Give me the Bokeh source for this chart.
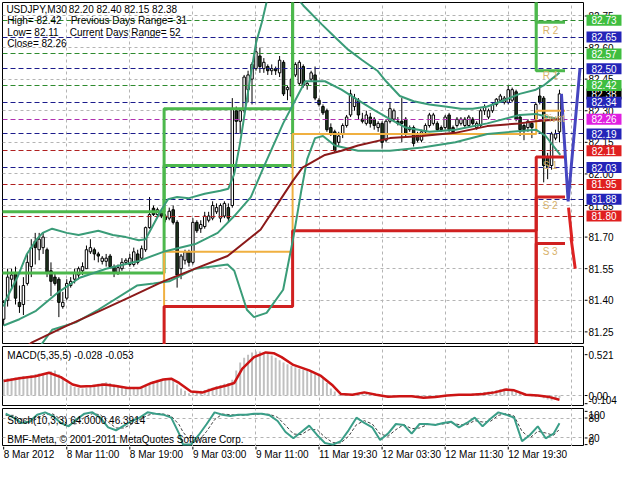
import numpy as np
from bokeh.plotting import figure
from bokeh.layouts import column, row
from bokeh.models import ColumnDataSource, Range1d, FixedTicker, Grid
from bokeh.embed import file_html
from bokeh.resources import INLINE
from bokeh.core.properties import value

FONT = "Liberation Sans"
FS = "10px"
FS_TXT = "10px"

# ---------------- data: USDJPY M30 candles (bar 0 .. 141) ----------------
opens = [81.31,81.40,81.50,81.53,81.39,81.38,81.48,81.56,81.68,81.64,
 81.65,81.64,81.54,81.51,81.50,81.37,81.41,81.47,81.50,81.52,
 81.54,81.55,81.63,81.64,81.62,81.585,81.585,81.61,81.56,81.53,
 81.55,81.58,81.57,81.57,81.62,81.60,81.64,81.745,81.837,81.807,
 81.82,81.80,81.79,81.83,81.77,81.55,81.59,81.63,81.58,81.77,
 81.74,81.75,81.78,81.79,81.82,81.79,81.80,81.84,81.85,82.30,
 82.25,82.30,82.40,82.45,82.50,82.56,82.50,82.51,82.49,82.50,
 82.48,82.53,82.40,82.37,82.47,82.43,82.51,82.42,82.45,82.47,
 82.35,82.32,82.30,82.22,82.20,82.15,82.19,82.23,82.28,82.32,
 82.35,82.26,82.24,82.27,82.26,82.22,82.24,82.16,82.25,82.26,
 82.25,82.25,82.26,82.21,82.22,82.19,82.16,82.20,82.23,82.24,
 82.24,82.22,82.22,82.28,82.22,82.23,82.24,82.23,82.23,82.26,
 82.22,82.23,82.30,82.27,82.30,82.33,82.35,82.34,82.34,82.35,
 82.39,82.27,82.23,82.22,82.24,82.26,82.37,82.36,82.08,82.04,
 82.17,82.20]
highs = [81.40,81.55,81.55,81.56,81.47,81.51,81.62,81.69,81.72,81.72,
 81.72,81.65,81.58,81.53,81.51,81.44,81.50,81.51,81.55,81.56,
 81.58,81.66,81.69,81.65,81.63,81.61,81.62,81.62,81.57,81.57,
 81.60,81.60,81.62,81.65,81.64,81.66,81.75,81.89,81.85,81.84,
 81.83,81.81,81.84,81.85,81.78,81.62,81.64,81.64,81.79,81.78,
 81.78,81.82,81.82,81.87,81.86,81.86,81.87,81.86,82.36,82.32,
 82.31,82.47,82.49,82.53,82.65,82.60,82.55,82.52,82.52,82.51,
 82.56,82.54,82.42,82.46,82.53,82.54,82.52,82.44,82.49,82.51,
 82.36,82.33,82.31,82.24,82.21,82.20,82.24,82.28,82.40,82.38,
 82.36,82.29,82.30,82.29,82.27,82.25,82.25,82.26,82.34,82.31,
 82.27,82.36,82.27,82.23,82.23,82.20,82.21,82.24,82.29,82.29,
 82.25,82.23,82.28,82.29,82.23,82.27,82.27,82.27,82.28,82.27,
 82.25,82.31,82.33,82.31,82.34,82.36,82.38,82.37,82.42,82.41,
 82.40,82.28,82.24,82.26,82.25,82.34,82.42,82.37,82.10,82.20,
 82.21,82.40]
lows = [81.28,81.37,81.45,81.38,81.34,81.33,81.47,81.51,81.57,81.59,
 81.62,81.51,81.42,81.47,81.32,81.36,81.40,81.46,81.48,81.50,
 81.52,81.55,81.62,81.59,81.58,81.57,81.56,81.55,81.51,81.52,
 81.54,81.57,81.56,81.56,81.57,81.59,81.63,81.74,81.80,81.79,
 81.79,81.77,81.78,81.76,81.46,81.50,81.57,81.56,81.57,81.72,
 81.72,81.74,81.77,81.78,81.81,81.77,81.79,81.77,81.84,82.19,
 82.19,82.29,82.34,82.33,82.49,82.48,82.48,82.47,82.47,82.47,
 82.46,82.37,82.35,82.36,82.46,82.42,82.41,82.40,82.44,82.35,
 82.32,82.28,82.20,82.18,82.10,82.13,82.17,82.22,82.27,82.30,
 82.26,82.24,82.23,82.22,82.21,82.20,82.12,82.15,82.24,82.25,
 82.23,82.15,82.18,82.20,82.13,82.15,82.15,82.19,82.22,82.23,
 82.20,82.20,82.21,82.20,82.19,82.22,82.23,82.22,82.22,82.23,
 82.21,82.22,82.28,82.26,82.29,82.32,82.34,82.33,82.33,82.34,
 82.25,82.18,82.16,82.20,82.17,82.25,82.33,81.96,81.975,82.02,
 82.16,82.15]
closes = [81.39,81.51,81.52,81.41,81.37,81.47,81.58,81.65,81.65,81.69,
 81.70,81.53,81.49,81.48,81.39,81.39,81.48,81.49,81.53,81.55,
 81.56,81.64,81.65,81.62,81.61,81.60,81.60,81.56,81.535,81.555,
 81.58,81.59,81.60,81.63,81.58,81.645,81.745,81.807,81.807,81.83,
 81.80,81.783,81.823,81.77,81.52,81.61,81.63,81.58,81.77,81.73,
 81.76,81.80,81.80,81.85,81.84,81.85,81.86,81.79,82.31,82.25,
 82.30,82.46,82.47,82.52,82.58,82.51,82.53,82.49,82.50,82.49,
 82.54,82.38,82.41,82.45,82.52,82.53,82.42,82.43,82.48,82.36,
 82.33,82.29,82.21,82.19,82.11,82.18,82.23,82.27,82.38,82.36,
 82.28,82.25,82.28,82.24,82.23,82.24,82.15,82.25,82.31,82.30,
 82.24,82.24,82.19,82.22,82.145,82.16,82.20,82.23,82.28,82.28,
 82.21,82.21,82.27,82.21,82.20,82.26,82.26,82.26,82.27,82.24,
 82.24,82.30,82.32,82.30,82.33,82.355,82.37,82.36,82.40,82.40,
 82.26,82.21,82.21,82.25,82.22,82.33,82.34,82.04,82.03,82.19,
 82.19,82.38]

# indicator lines: (bar, value)
upper_band = [(0,81.37),(0.5,81.40),(3.5,81.51),(5.9,81.62),(8.4,81.69),(9.9,81.72),(12.3,81.74),
 (16,81.72),(19,81.71),(24,81.73),(27.7,81.71),(31,81.70),(34.3,81.685),(36,81.69),(38,81.76),
 (40,81.83),(41.7,81.88),(44,81.89),(47,81.885),(51,81.906),(55,81.92),(57,81.93),(58.5,82.00),
 (60,82.15),(61,82.27),(62.5,82.45),(64,82.62),(65.5,82.72),(67,82.84),(70,82.93),(73,82.87),
 (76,82.80),(80.7,82.71),(84,82.65),(87.4,82.59),(91,82.54),(94.8,82.49),(97,82.44),(100.5,82.37),
 (104,82.345),(108,82.33),(112,82.32),(116,82.31),(119,82.31),(122.7,82.32),(127,82.35),
 (130.9,82.38),(135,82.40),(137,82.42),(139,82.45),(141,82.48)]
middle_band = [(0,81.28),(4,81.31),(8.2,81.35),(14,81.44),(19.3,81.507),(26,81.55),(34,81.585),
 (40.5,81.63),(48.6,81.667),(54.3,81.72),(58.5,81.80),(62.7,81.89),(65.9,82.03),(70.9,82.24),
 (76.5,82.44),(81.5,82.44),(85.7,82.40),(89.9,82.35),(93.8,82.305),(98,82.26),(102,82.22),
 (108,82.20),(114.6,82.21),(122.7,82.24),(130.9,82.28),(135,82.285),(138,82.27),(141,82.26)]
lower_band = [(8,81.15),(12.3,81.26),(18.3,81.295),(24,81.355),(33.8,81.47),(38,81.48),(42,81.49),
 (48.6,81.55),(56.8,81.57),(58.5,81.54),(61.7,81.355),(63.5,81.32),(66.7,81.34),(70.9,81.45),
 (73.5,81.70),(75.5,81.92),(77,82.07),(79,82.17),(81,82.18),(84,82.135),(89.9,82.11),(98,82.11),
 (106.2,82.125),(114.6,82.15),(122.7,82.19),(135,82.21),(137.5,82.18),(141.2,82.09)]
ma_line = [(5,81.17),(7.2,81.20),(15.8,81.277),(24,81.346),(32,81.415),(40.5,81.49),(48.6,81.55),
 (56.8,81.61),(65.2,81.736),(73.3,81.966),(75.8,82.03),(81.5,82.09),(85.7,82.11),(89.9,82.135),
 (98,82.17),(106,82.18),(114.6,82.195),(122.7,82.227),(130.9,82.24),(135,82.25),(141,82.26)]

# daily pivot step lines
day_edges = [-1, 40.7, 73.3, 135.1, 142.4]
r2_levels = [81.82, 82.31, 83.40, 82.72, 82.72]
r1_levels = [81.53, 82.04, 83.00, 82.49, 82.49]
pivot_levels = [81.10, 81.63, 82.19, 82.30, 82.30]
s1_levels = [80.90, 81.37, 81.73, 82.08, 82.08]
s2_levels = [80.60, 80.96, 81.00, 81.89, 81.89]
s3_levels = [80.30, 80.70, 80.50, 81.67, 81.67]
pivot_names = ["R 2", "R 1", "Pivot", "S 1", "S 2", "S 3"]
pivot_name_y = [82.68, 82.465, 82.262, 82.04, 81.85, 81.63]

# horizontal levels with price boxes
level_values = [82.73, 82.65, 82.57, 82.50, 82.42, 82.34, 82.26, 82.19, 82.11, 82.03, 81.95, 81.88, 81.80]
level_kinds = ["R", "M", "R", "M", "R", "M", "P", "M", "S", "M", "S", "M", "S"]
current_price = 82.38

# projection lines beyond the last bar
proj_blue = [(141.5,82.38),(143.2,81.87),(146.2,82.50)]
proj_red = [(143.3,81.84),(144.2,81.68),(143.9,81.70),(145.0,81.55)]

# MACD(5,35,5)
macd_main = [0.21,0.22,0.22,0.23,0.24,0.25,0.25,0.26,0.27,0.28,
 0.28,0.30,0.31,0.32,0.27,0.21,0.16,0.13,0.11,0.10,
 0.09,0.10,0.12,0.135,0.15,0.16,0.17,0.16,0.14,0.127,
 0.11,0.10,0.09,0.09,0.10,0.10,0.13,0.16,0.185,0.20,
 0.21,0.22,0.21,0.20,0.14,0.09,0.06,0.03,0.03,0.04,
 0.06,0.07,0.09,0.10,0.12,0.135,0.15,0.16,0.20,0.32,
 0.42,0.48,0.52,0.55,0.56,0.56,0.55,0.53,0.51,0.48,
 0.45,0.42,0.40,0.38,0.36,0.34,0.33,0.32,0.30,0.27,
 0.25,0.22,0.16,0.09,0.05,0.01,0.01,0.015,0.02,0.025,
 0.03,0.03,0.02,0.015,0.01,0.0,-0.01,-0.02,-0.015,-0.01,
 -0.008,-0.005,0.0,0.0,-0.01,-0.02,-0.027,-0.025,-0.022,-0.02,
 -0.012,-0.005,0.0,0.003,0.006,0.01,0.013,0.016,0.02,0.026,
 0.033,0.04,0.046,0.052,0.058,0.068,0.08,0.09,0.08,0.07,
 0.055,0.03,0.02,0.005,-0.008,-0.015,-0.02,-0.035,-0.05,-0.065,
 -0.05,-0.028]
macd_signal = [(0,0.185),(4,0.22),(8,0.245),(11.5,0.29),(14.5,0.235),(17.5,0.14),(19.5,0.115),
 (22.5,0.12),(25.5,0.14),(28.5,0.12),(31.5,0.095),(34.5,0.095),(37.5,0.16),(40.5,0.205),
 (42.5,0.215),(44.5,0.16),(47.5,0.05),(50.5,0.04),(53.5,0.09),(56.5,0.127),(58.5,0.16),
 (60.5,0.34),(63.5,0.49),(66.5,0.55),(68.5,0.54),(70.5,0.49),(73.5,0.39),(77.5,0.32),
 (80.5,0.25),(83.5,0.127),(85.5,0.02),(88.5,0.01),(91.5,0.04),(94.5,0.01),(97.5,-0.015),
 (100.5,-0.008),(103.5,-0.008),(106.5,-0.027),(109.5,-0.02),(112.5,0.0),(115.5,0.01),
 (118.5,0.01),(121.5,0.02),(124.5,0.04),(127.5,0.077),(129.5,0.066),(132.5,0.01),
 (135.5,0.0),(138.5,-0.02),(141,-0.053)]
macd_ticks = [0.521, 0.0, -0.104]
macd_tick_labels = ["0.521", "0.00", "-0.104"]

# Stochastic(10,3,3)
stoch_k = [(0.5,93),(2.5,81),(4.5,65),(6.5,69),(8.5,90),(10.5,97),(12.5,86),(14.5,65),(16.5,55),
 (18.5,76),(20.5,93),(22.5,97),(24.5,81),(26.5,52),(28.5,43),(30.5,57),(32.5,71),(34.5,81),
 (36.5,97),(38.5,93),(40.5,90),(42.5,81),(44.5,33),(45.5,0),(47.5,0),(49.5,29),(51.5,62),
 (53.5,97),(55.5,90),(57.5,86),(59.5,90),(61.5,90),(63.5,93),(65.5,93),(67.5,88),(69.5,71),
 (71.5,38),(73.5,19),(75.5,38),(77.5,57),(79.5,29),(81.5,5),(83.5,0),(85.5,10),(87.5,43),
 (89.5,81),(91.5,65),(93.5,52),(95.5,14),(97.5,33),(99.5,62),(101.5,59),(103.5,33),(105.5,62),
 (107.5,62),(109.5,59),(111.5,65),(113.5,69),(115.5,52),(117.5,65),(119.5,81),(121.5,55),
 (123.5,78),(125.5,97),(127.5,90),(129.5,81),(131.5,10),(133.5,29),(135.5,55),(137.5,19),
 (139.5,33),(141,64)]
stoch_d = [(0.5,88),(2.5,88),(4.5,75),(6.5,67),(8.5,78),(10.5,92),(12.5,92),(14.5,76),(16.5,60),
 (18.5,63),(20.5,82),(22.5,93),(24.5,90),(26.5,68),(28.5,50),(30.5,50),(32.5,62),(34.5,75),
 (36.5,88),(38.5,94),(40.5,92),(42.5,86),(44.5,60),(45.5,38),(47.5,8),(49.5,12),(51.5,40),
 (53.5,75),(55.5,92),(57.5,90),(59.5,88),(61.5,89),(63.5,91),(65.5,92),(67.5,91),(69.5,82),
 (71.5,58),(73.5,32),(75.5,30),(77.5,45),(79.5,45),(81.5,22),(83.5,6),(85.5,5),(87.5,25),
 (89.5,60),(91.5,72),(93.5,62),(95.5,32),(97.5,25),(99.5,45),(101.5,60),(103.5,48),(105.5,50),
 (107.5,60),(109.5,61),(111.5,62),(113.5,66),(115.5,60),(117.5,60),(119.5,72),(121.5,68),
 (123.5,70),(125.5,88),(127.5,93),(129.5,86),(131.5,40),(133.5,20),(135.5,40),(137.5,35),
 (139.5,28),(141,46)]
stoch_ticks = [100, 80, 20, 0]

price_ticks = [81.25, 81.40, 81.55, 81.70, 81.85, 82.00, 82.15, 82.30, 82.45, 82.60, 82.75]
time_ticks = [0, 16, 32, 48, 64, 80, 96, 112, 128]
time_labels = ["8 Mar 2012", "8 Mar 11:00", "8 Mar 19:00", "9 Mar 03:00", "9 Mar 11:00",
               "11 Mar 19:30", "12 Mar 03:30", "12 Mar 11:30", "12 Mar 19:30"]
vgrid_ticks = [16, 32, 48, 64, 80, 96, 112, 128, 144]

# ---------------- styling ----------------
PW = 584          # panel width (2px border + frame)
SW = 40           # right scale strip width
LB = 2
X0, X1 = -0.3, 147.35
GRID = "#b4b4b4"
BEAR = "#213b21"
BAND = "#3a9c78"
MA_C = "#8b1a1a"
GREEN = "#4cb84c"
ORANGE = "#f0b040"
RED = "#d02020"
LEVEL_LINE = {"R": "#2e8b2e", "M": "#1c1c8c", "P": "#b030b0", "S": "#b02020"}
LEVEL_BOX = {"R": "#3fbe3f", "M": "#2424b8", "P": "#e020e0", "S": "#e02020"}

xr = Range1d(X0, X1)


def pts(lst):
    xs, ys = zip(*lst)
    return list(xs), list(ys)


def ref_bar(px):
    return X0 + (px - 2) / 4.05


def ref_price(py):
    return 81.25 + (343 - py) / 218.0


def base_fig(width, height, x_range, y_range, left, top, bottom):
    f = figure(width=width, height=height, x_range=x_range, y_range=y_range,
               toolbar_location=None, output_backend="svg",
               x_axis_location=None, y_axis_location=None,
               min_border_left=left, min_border_right=0,
               min_border_top=top, min_border_bottom=bottom)
    f.background_fill_color = "white"
    f.border_fill_color = "white"
    f.grid.visible = False
    return f


def make_panel(height, yrange, top=2, bottom=0):
    p = base_fig(PW, height, xr, yrange, LB, top, bottom)
    p.outline_line_color = "black"
    p.outline_line_width = 1
    p.add_layout(Grid(dimension=0, ticker=FixedTicker(ticks=vgrid_ticks),
                      grid_line_color=GRID, grid_line_dash="3 3"))
    return p


def make_scale(height, yrange, ticks, labels, baselines, top=2, bottom=0):
    s = base_fig(SW, height, Range1d(0, SW), yrange, 0, top, bottom)
    s.outline_line_color = None
    s.segment(x0=[0] * len(ticks), x1=[3] * len(ticks), y0=ticks, y1=ticks,
              line_color="black", line_width=1)
    for bl in sorted(set(baselines)):
        sel = [i for i, b in enumerate(baselines) if b == bl]
        s.text(x=[4] * len(sel), y=[ticks[i] for i in sel], text=[labels[i] for i in sel],
               text_font=value(FONT), text_font_size=FS, text_color="black",
               text_align="left", text_baseline=bl)
    return s


def add_text(p, xs, ys, texts, color="black", size=FS_TXT, align="left", baseline="middle"):
    p.text(x=xs, y=ys, text=texts, text_font=value(FONT), text_font_size=size,
           text_color=color, text_align=align, text_baseline=baseline)


# ---------------- main price panel ----------------
main_y = Range1d(81.19, 82.814)
p = make_panel(344, main_y)
p.add_layout(Grid(dimension=1, ticker=FixedTicker(ticks=price_ticks),
                  grid_line_color=GRID, grid_line_dash="3 3"))

o = np.array(opens); c = np.array(closes)
idx = np.arange(len(closes))
src = ColumnDataSource(dict(x=idx, h=highs, l=lows,
                            top=np.maximum(o, c), bot=np.minimum(o, c),
                            fill=["white" if cc >= oo else BEAR for oo, cc in zip(o, c)]))
p.segment(x0="x", y0="h", x1="x", y1="l", source=src, line_color="black", line_width=1)
p.vbar(x="x", width=0.62, top="top", bottom="bot", fill_color="fill",
       line_color="black", line_width=1, source=src)

p.hspan(y=level_values, line_color=[LEVEL_LINE[k] for k in level_kinds],
        line_width=1, line_dash="5 3")

for lv, col, lw in [(r2_levels, GREEN, 3), (r1_levels, GREEN, 3), (pivot_levels, ORANGE, 2),
                    (s1_levels, RED, 3), (s2_levels, RED, 3), (s3_levels, RED, 3)]:
    p.step(x=day_edges, y=lv, mode="after", line_color=col, line_width=lw)

for band in (upper_band, middle_band, lower_band):
    bx, by = pts(band)
    p.line(bx, by, line_color=BAND, line_width=2)
mx, my = pts(ma_line)
p.line(mx, my, line_color=MA_C, line_width=2)

bx, by = pts(proj_blue)
p.line(bx, by, line_color="#4646c0", line_width=3)
bx, by = pts(proj_red)
p.line(bx, by, line_color="#dd2222", line_width=3)

add_text(p, [ref_bar(557)] * len(pivot_names), pivot_name_y, pivot_names, color="#d8b26a", size=FS)

hdr = [("USDJPY,M30", 6, 9), ("82.20 82.40 82.15 82.38", 70, 9),
       ("High= 82.42", 7, 21), ("Previous Days Range= 31", 72, 21),
       ("Low= 82.11", 7, 33), ("Current Days Range= 52", 71, 33),
       ("Close= 82.26", 7, 45)]
add_text(p, [ref_bar(h[1]) for h in hdr], [ref_price(h[2]) for h in hdr], [h[0] for h in hdr])

# price scale with level boxes
ps_main = make_scale(344, main_y, price_ticks, [f"{t:.2f}" for t in price_ticks],
                     ["middle"] * len(price_ticks))
ps_main.rect(x=[19.5], y=[current_price], width=35, height=11, height_units="screen",
             fill_color="black", line_color=None)
add_text(ps_main, [19.5], [current_price], [f"{current_price:.2f}"], color="white",
         align="center", size=FS)
ps_main.rect(x=[19.5] * len(level_values), y=level_values, width=35, height=11,
             height_units="screen", fill_color=[LEVEL_BOX[k] for k in level_kinds], line_color=None)
add_text(ps_main, [19.5] * len(level_values), level_values,
         [f"{v:.2f}" for v in level_values], color="white", align="center", size=FS)

# ---------------- MACD panel ----------------
macd_y = Range1d(-0.14, 0.625)
pm = make_panel(62, macd_y)
pm.add_layout(Grid(dimension=1, ticker=FixedTicker(ticks=[0.0]),
                   grid_line_color=GRID, grid_line_dash="3 3"))
pm.vbar(x=list(idx), top=macd_main, bottom=0, width=0.5, fill_color="#c0c0c0", line_color=None)
sx, sy = pts(macd_signal)
pm.line(sx, sy, line_color="#cc1414", line_width=2.5)
add_text(pm, [ref_bar(7)], [0.509], ["MACD(5,35,5) -0.028 -0.053"])
ps_macd = make_scale(62, macd_y, macd_ticks, macd_tick_labels, ["middle", "middle", "bottom"])

# ---------------- Stochastic panel ----------------
stoch_y = Range1d(-5.7, 108.6)
pst = make_panel(40, stoch_y, bottom=0)
pst.add_layout(Grid(dimension=1, ticker=FixedTicker(ticks=[20, 80]),
                    grid_line_color=GRID, grid_line_dash="3 3"))
dx, dy = pts(stoch_d)
pst.line(dx, dy, line_color="#404040", line_width=1, line_dash="3 2")
kx, ky = pts(stoch_k)
pst.line(kx, ky, line_color="#3a9e88", line_width=2)
add_text(pst, [ref_bar(7), ref_bar(7)], [74, 14],
         ["Stoch(10,3,3) 64.0000 46.3914", "BMF-Meta, \u00a9 2001-2011 MetaQuotes Software Corp."])
ps_stoch = make_scale(40, stoch_y, stoch_ticks, [str(t) for t in stoch_ticks],
                      ["top", "middle", "middle", "bottom"])

# ---------------- time scale ----------------
tstrip = base_fig(PW, 18, xr, Range1d(0, 18), LB, 0, 0)
tstrip.outline_line_color = None
tstrip.segment(x0=time_ticks, x1=time_ticks, y0=[18] * len(time_ticks), y1=[15] * len(time_ticks),
               line_color="black", line_width=1)
add_text(tstrip, time_ticks, [15.5] * len(time_ticks), time_labels, baseline="top")

layout = column(row(p, ps_main), row(pm, ps_macd), row(pst, ps_stoch), tstrip)
open("out.html", "w").write(file_html(layout, INLINE))
